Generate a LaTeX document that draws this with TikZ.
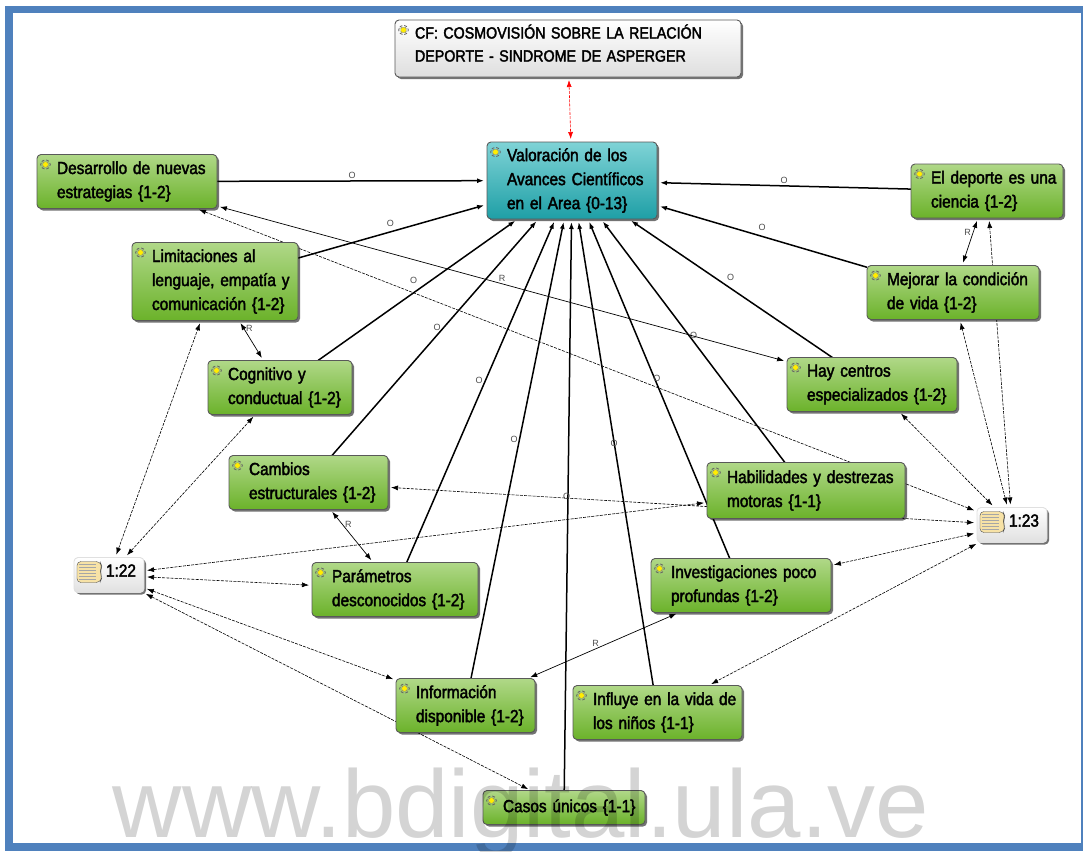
\documentclass[tikz,border=0pt]{standalone}
\usepackage{fontspec}
\usepackage{tikz}
\usetikzlibrary{positioning,shadows,backgrounds,arrows.meta}
\setmainfont{Liberation Sans}
\newfontfamily\conceptfont[FakeStretch=.88,FakeBold=2.2,WordSpace=.8]{Liberation Sans}
\definecolor{framblue}{HTML}{4F81BD}
\definecolor{greentop}{HTML}{B0D888}
\definecolor{greenbot}{HTML}{6BB22A}
\definecolor{tealtop}{HTML}{7FD3D6}
\definecolor{tealbot}{HTML}{1E9FA6}
\definecolor{paper}{HTML}{F7E2A6}
\newcommand{\conceptmark}{%
  \draw [black!60,densely dashed,line width=.8pt] (path picture bounding box.north west)
    ++(2pt,-10pt) -- ++(6.5pt,6.5pt) -- ++(6.5pt,-6.5pt) -- ++(-6.5pt,-6.5pt) -- cycle;
  \fill [yellow!95!orange,draw=black!50,line width=.2pt] (path picture bounding box.north west)
    ++(4pt,-10pt) -- ++(4.5pt,4.5pt) -- ++(4.5pt,-4.5pt) -- ++(-4.5pt,-4.5pt) -- cycle;
}
\newcommand{\memomark}{%
  \fill [paper,draw=black!70,line width=.4pt] (path picture bounding box.north west)
    ++(3pt,-4pt) -- ++(23pt,0pt) -- ++(2pt,-5pt) -- ++(-2pt,-5pt) -- ++(2pt,-6pt) -- ++(-2pt,-5pt) -- ++(-23pt,0pt) -- cycle;
  \foreach \i in {7,10,...,22}
    \draw [black!35,line width=.4pt] (path picture bounding box.north west) ++(5pt,-\i pt) -- ++(17pt,0pt);
}
\begin{document}
\begin{tikzpicture}
    [ x = 1pt, y = 1pt
    , >={Latex[length=7pt,width=5pt]}
    , box/.style =
      { draw=black!65, line width=.9pt, rounded corners=4pt, outer sep=0pt, inner xsep=6pt, inner ysep=0pt
      , align=left, font=\conceptfont\fontsize{17.5}{24}\selectfont, minimum height=54pt
      , execute at begin node={\leftskip=14pt\relax}
      , drop shadow={shadow xshift=2pt,shadow yshift=-2pt,opacity=.55,fill=black}
      }
    , concept/.style =
      { box, top color=greentop, bottom color=greenbot, path picture={\conceptmark} }
    , core/.style =
      { box, top color=tealtop, bottom color=tealbot, path picture={\conceptmark} }
    , family/.style =
      { box, top color=white, bottom color=black!13, path picture={\conceptmark}
      , font=\conceptfont\fontsize{16.2}{23}\selectfont, text depth=34pt
      }
    , memo/.style =
      { box, draw=black!12, top color=white, bottom color=black!12, minimum height=35pt
      , text width=58pt, path picture={\memomark}, text depth=9pt
      , execute at begin node={\leftskip=26pt\relax}
      }
    , edge/.style =
      { shorten >=3pt, shorten <=3pt }
    , isa/.style =
      { edge, ->, line width=1.5pt, shorten <=0pt }
    , rel/.style =
      { edge, <->, line width=.7pt }
    , quote/.style =
      { edge, <->, line width=.6pt, dash pattern=on 3pt off 1.2pt }
    , tag/.style =
      { font=\fontsize{9}{9}\selectfont, text=black!70, inner sep=2pt }
    ]
    \useasboundingbox (0,0) rectangle (1083,-851);

    \node [core,text width=158pt,minimum height=77pt,anchor=north west] (valor) at (487,-142)
      {Valoración de los\\Avances Científicos\\en el Area \{0-13\}};
    \node [family,text width=334pt,minimum height=57pt] (cf) [above=65pt of valor,xshift=-4pt]
      {CF: COSMOVISIÓN SOBRE LA RELACIÓN\\DEPORTE - SINDROME DE ASPERGER};
    \node [concept,text width=168pt] (desarrollo) [left=270pt of valor,yshift=-1pt]
      {Desarrollo de nuevas\\estrategias \{1-2\}};
    \node [concept,text width=154pt,minimum height=78pt] (limitaciones) [below right=34pt and 95pt of desarrollo.south west]
      {Limitaciones al\\lenguaje, empatía y\\comunicación \{1-2\}};
    \node [concept,text width=132pt] (cognitivo) [below right=40pt and 76pt of limitaciones.south west]
      {Cognitivo y\\conductual \{1-2\}};
    \node [concept,text width=147pt] (cambios) [below right=41pt and 21pt of cognitivo.south west]
      {Cambios\\estructurales \{1-2\}};
    \node [concept,text width=154pt] (parametros) [below right=53pt and 83pt of cambios.south west]
      {Parámetros\\desconocidos \{1-2\}};
    \node [concept,text width=127pt] (informacion) [below right=62pt and 84pt of parametros.south west]
      {Información\\disponible \{1-2\}};
    \node [concept,text width=150pt,minimum height=34pt] (casos) [below right=58pt and 87pt of informacion.south west]
      {Casos únicos \{1-1\}};
    \node [concept,text width=165pt,inner xsep=2pt,execute at begin node={\leftskip=18pt\relax}] (influye) [below right=7pt and 38pt of informacion.north east]
      {Influye en la vida de\\los niños \{1-1\}};
    \node [concept,text width=168pt] (investigaciones) [below right=-4pt and 173pt of parametros.north east]
      {Investigaciones poco\\profundas \{1-2\}};
    \node [concept,text width=186pt,minimum height=56pt] (habilidades) [below right=7pt and 319pt of cambios.north east]
      {Habilidades y destrezas\\motoras \{1-1\}};
    \node [concept,text width=158pt] (centros) [below right=-3pt and 435pt of cognitivo.north east]
      {Hay centros\\especializados \{1-2\}};
    \node [concept,text width=160pt] (mejorar) [below right=23pt and 569pt of limitaciones.north east]
      {Mejorar la condición\\de vida \{1-2\}};
    \node [concept,text width=140pt] (ciencia) [below right=22pt and 254pt of valor.north east]
      {El deporte es una\\ciencia \{1-2\}};
    \node [memo] (memoa) [below left=-5pt and 168pt of parametros.north west] {1:22};
    \node [memo] (memob) [below right=45pt and 72pt of habilidades.north east] {1:23};

    \begin{scope}[on background layer]
    \draw [framblue,line width=7.5pt] (9,-9.5) rectangle (1085,-847);

    \draw [isa] (desarrollo) -- node [tag,pos=.5,above] {O} (valor);
    \draw [isa] (limitaciones) -- node [tag,pos=.5,above left=2pt and -4pt] {O} (valor);
    \draw [isa] (cognitivo) -- node [tag,pos=.5,above left=3pt and -2pt] {O} (valor);
    \draw [isa] (cambios) -- node [tag,pos=.54,left] {O} (valor);
    \draw [isa] (parametros) -- node [tag,pos=.53,left] {O} (valor);
    \draw [isa] (informacion) -- node [tag,pos=.52,left=-1pt] {O} (valor);
    \draw [isa] (casos) -- node [tag,pos=.515,left=-5pt] {O} (valor);
    \draw [isa] (influye) -- node [tag,pos=.52] {O} (valor);
    \draw [isa] (investigaciones) -- node [tag,pos=.53,right=-4pt] {O} (valor);
    \draw [isa] (habilidades) -- node [tag,pos=.52,right=-2pt] {O} (valor);
    \draw [isa] (centros) -- node [tag,pos=.52,above right=2pt and -2pt] {O} (valor);
    \draw [isa] (mejorar) -- node [tag,pos=.5,above=3pt] {O} (valor);
    \draw [isa] (ciencia) -- node [tag,pos=.5,above] {O} (valor);

    \draw [rel] (desarrollo) -- node [tag,pos=.5,above] {R} (centros);
    \draw [rel] (limitaciones) -- node [tag,pos=.2,right] {R} (cognitivo);
    \draw [rel] (cambios) -- node [tag,pos=.29,right] {R} (parametros);
    \draw [rel] (mejorar) -- node [tag,pos=.7,left] {R} (ciencia);
    \draw [rel] (investigaciones) -- node [tag,pos=.55,above] {R} (informacion);

    \draw [quote,red] (cf) -- (valor);

    \draw [quote] (memoa) -- (limitaciones);
    \draw [quote] (memoa) -- (cognitivo);
    \draw [quote] (memoa) -- (habilidades);
    \draw [quote] (memoa) -- (parametros);
    \draw [quote] (memoa) -- (informacion);
    \draw [quote] (memoa) -- (casos);

    \draw [quote] (memob) -- (desarrollo);
    \draw [quote] (memob) -- (ciencia);
    \draw [quote] (memob) -- (mejorar);
    \draw [quote] (memob) -- (centros);
    \draw [quote] (memob) -- (cambios);
    \draw [quote] (memob) -- (investigaciones);
    \draw [quote] (memob) -- (influye);
    \end{scope}

    \node [font=\fontsize{96}{96}\selectfont,text=black,text opacity=.17,inner sep=0pt,anchor=base] (marca) at (521,-837)
      {www.bdigital.ula.ve};
  \end{tikzpicture}
\end{document}
